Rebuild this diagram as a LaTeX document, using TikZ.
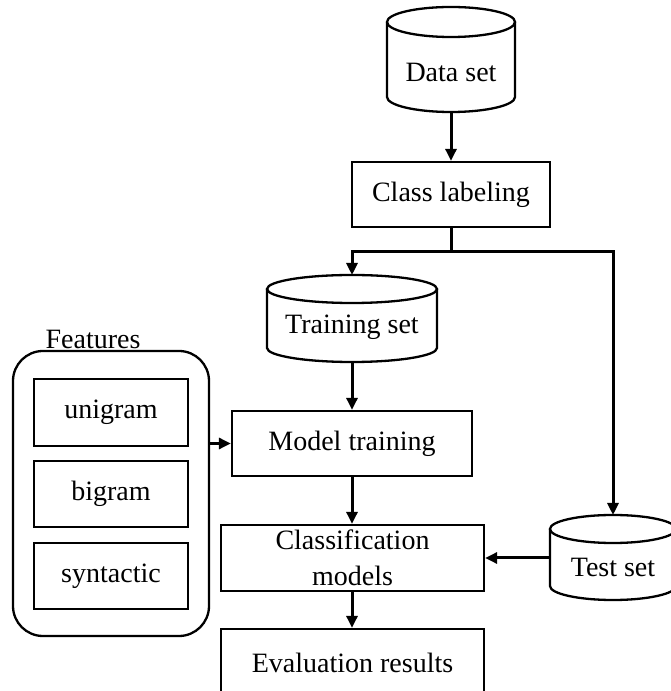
\documentclass[tikz,border=0pt]{standalone}
\usepackage{fontspec}
\setmainfont{Liberation Serif}
\usetikzlibrary{arrows.meta,calc}
\tikzset{
  x=1pt,y=1pt,
  boxline/.style={line width=2.3pt},
  procbox/.style={draw,boxline,inner sep=0pt,align=center,font=\fontsize{28}{36}\selectfont},
  txt/.style={inner sep=0pt,align=center,font=\fontsize{28}{36}\selectfont},
  conn/.style={line width=3pt,-{Triangle[length=12pt,width=11pt]}},
  plain/.style={line width=3pt}
}
\newcommand{\mycyl}[5]{% cx, topY, botY, hw, ry
  \draw[boxline] (#1,#2-#5) ellipse [x radius=#4, y radius=#5];
  \draw[boxline] (#1-#4,#2-#5) -- (#1-#4,#3+#5)
     arc[start angle=180,end angle=360,x radius=#4,y radius=#5]
     -- (#1+#4,#2-#5);
}
\begin{document}
\begin{tikzpicture}
\useasboundingbox (0,0) rectangle (671,691);
% cylinders
\mycyl{451}{684}{579}{64}{15}
\mycyl{352}{416}{329}{85}{14}
\mycyl{613}{176}{91}{63}{14}
\node[txt] (data) at (451,619) {Data set};
\node[txt] (train) at (352,364) {Training set};
\node[txt] (test) at (613,124) {Test set};
\coordinate (dataBot) at (451,579);
\coordinate (trainTop) at (352,416);
\coordinate (trainBot) at (352,329);
\coordinate (testTop) at (613,176);
\coordinate (testLeft) at (550,133);
% boxes
\node[procbox,minimum width=198,minimum height=65] (class) at (451,496.5) {Class labeling};
\node[procbox,minimum width=240,minimum height=65] (model) at (352,247.5) {Model training};
\node[procbox,minimum width=263,minimum height=66] (cls) at (352.5,133) {Classification\\models};
\node[draw,boxline,inner sep=0pt,minimum width=263,minimum height=72] (evalbox) at (352.5,26) {};
\node[txt] (eval) at (352.5,28) {Evaluation results};
% features
\node[draw,boxline,rounded corners=30pt,minimum width=196,minimum height=285,inner sep=0pt] (features) at (111,197.5) {};
\node[txt,anchor=base] (featlbl) at (93,342) {Features};
\node[procbox,minimum width=154,minimum height=67] (uni) at (111,278.5) {unigram};
\node[procbox,minimum width=154,minimum height=66] (bi) at (111,197) {bigram};
\node[procbox,minimum width=154,minimum height=66] (syn) at (111,115) {syntactic};
% connectors
\coordinate (split) at (451,439);
\coordinate (splitL) at (352,439);
\coordinate (splitR) at (613,439);
\draw[conn] (dataBot) -- (class.north);
\draw[plain] (class.south) -- (split);
\draw[plain,line cap=rect] (splitL) -- (splitR);
\draw[conn] (splitL) -- (trainTop);
\draw[conn] (splitR) -- (testTop);
\draw[conn] (trainBot) -- (model.north);
\draw[conn] (features.east |- model.west) -- (model.west);
\draw[conn] (model.south -| cls.north) ++(-0.5,0) -- ($(cls.north)+(-0.5,0)$);
\draw[conn] (testLeft) -- (testLeft -| cls.east);
\draw[conn] ($(cls.south)+(-0.5,0)$) -- ($(evalbox.north)+(-0.5,0)$);
\end{tikzpicture}
\end{document}
